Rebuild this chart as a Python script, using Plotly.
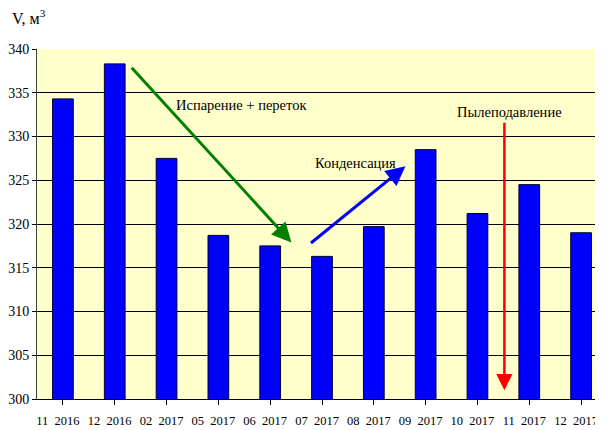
import plotly.graph_objects as go

NB = "\u00a0\u00a0"
categories = ["11" + NB + "2016", "12" + NB + "2016", "02" + NB + "2017", "05" + NB + "2017",
              "06" + NB + "2017", "07" + NB + "2017", "08" + NB + "2017", "09" + NB + "2017",
              "10" + NB + "2017", "11" + NB + "2017", "12" + NB + "2017"]
volumes = [334.3, 338.3, 327.5, 318.7, 317.5, 316.3, 319.7, 328.5, 321.2, 324.5, 319.0]
y_ticks = [300, 305, 310, 315, 320, 325, 330, 335, 340]

FONT = "'Liberation Serif', 'Times New Roman', Tinos, 'DejaVu Serif', serif"

fig = go.Figure()
fig.add_trace(go.Bar(
    x=list(range(len(categories))), y=volumes, base=0,
    marker=dict(color="#0000FF", line=dict(color="#000033", width=1)),
    width=0.4,
))

def arrow(x0, y0, x1, y1, color, width):
    return dict(x=x1, y=y1, ax=x0, ay=y0, xref="x", yref="y", axref="x", ayref="y",
                showarrow=True, arrowhead=2, arrowsize=1.3, arrowwidth=width,
                arrowcolor=color, text=" ")

annotations = [
    arrow(1.26, 338.3, 4.41, 317.9, "#008000", 3),
    arrow(4.72, 317.5, 6.61, 326.6, "#0000FF", 3),
    arrow(8.52, 332.6, 8.52, 301.0, "#FF0000", 2.5),
    dict(x=3.45, y=333.6, xref="x", yref="y", text="Испарение + переток", showarrow=False,
         font=dict(family=FONT, size=14.5, color="#000000")),
    dict(x=5.65, y=327.0, xref="x", yref="y", text="Конденсация", showarrow=False,
         font=dict(family=FONT, size=14.5, color="#000000")),
    dict(x=8.62, y=332.8, xref="x", yref="y", text="Пылеподавление", showarrow=False,
         font=dict(family=FONT, size=14.5, color="#000000")),
    dict(x=-0.047, y=1.09, xref="paper", yref="paper", xanchor="left", yanchor="middle",
         text="V, м<sup>3</sup>", showarrow=False,
         font=dict(family=FONT, size=16, color="#000000")),
]

fig.update_layout(
    width=603, height=430,
    margin=dict(l=29, r=4, t=41, b=39, autoexpand=False),
    paper_bgcolor="#FFFFFF",
    plot_bgcolor="#FFFFCC",
    showlegend=False,
    bargap=0.6,
    annotations=annotations,
    font=dict(family=FONT, size=14, color="#000000"),
)
fig.update_xaxes(
    tickmode="array", tickvals=list(range(len(categories))), ticktext=categories,
    range=[-0.5, 10.5], tickson="boundaries", ticks="outside", ticklen=5,
    tickcolor="#000000", showline=True, linecolor="#000000", linewidth=1,
    showgrid=False, zeroline=False, ticklabelstandoff=5, ticklabelshift=-5,
    automargin=False,
    tickfont=dict(family=FONT, size=12.5, color="#000000"),
)
fig.update_yaxes(
    range=[300, 340], tickvals=y_ticks, ticks="outside", ticklen=4,
    tickcolor="#000000", showline=True, linecolor="#404040", linewidth=1,
    showgrid=True, gridcolor="#000000", gridwidth=1, zeroline=False, automargin=False,
    tickfont=dict(family=FONT, size=14, color="#000000"),
)

fig.write_html("out.html")
